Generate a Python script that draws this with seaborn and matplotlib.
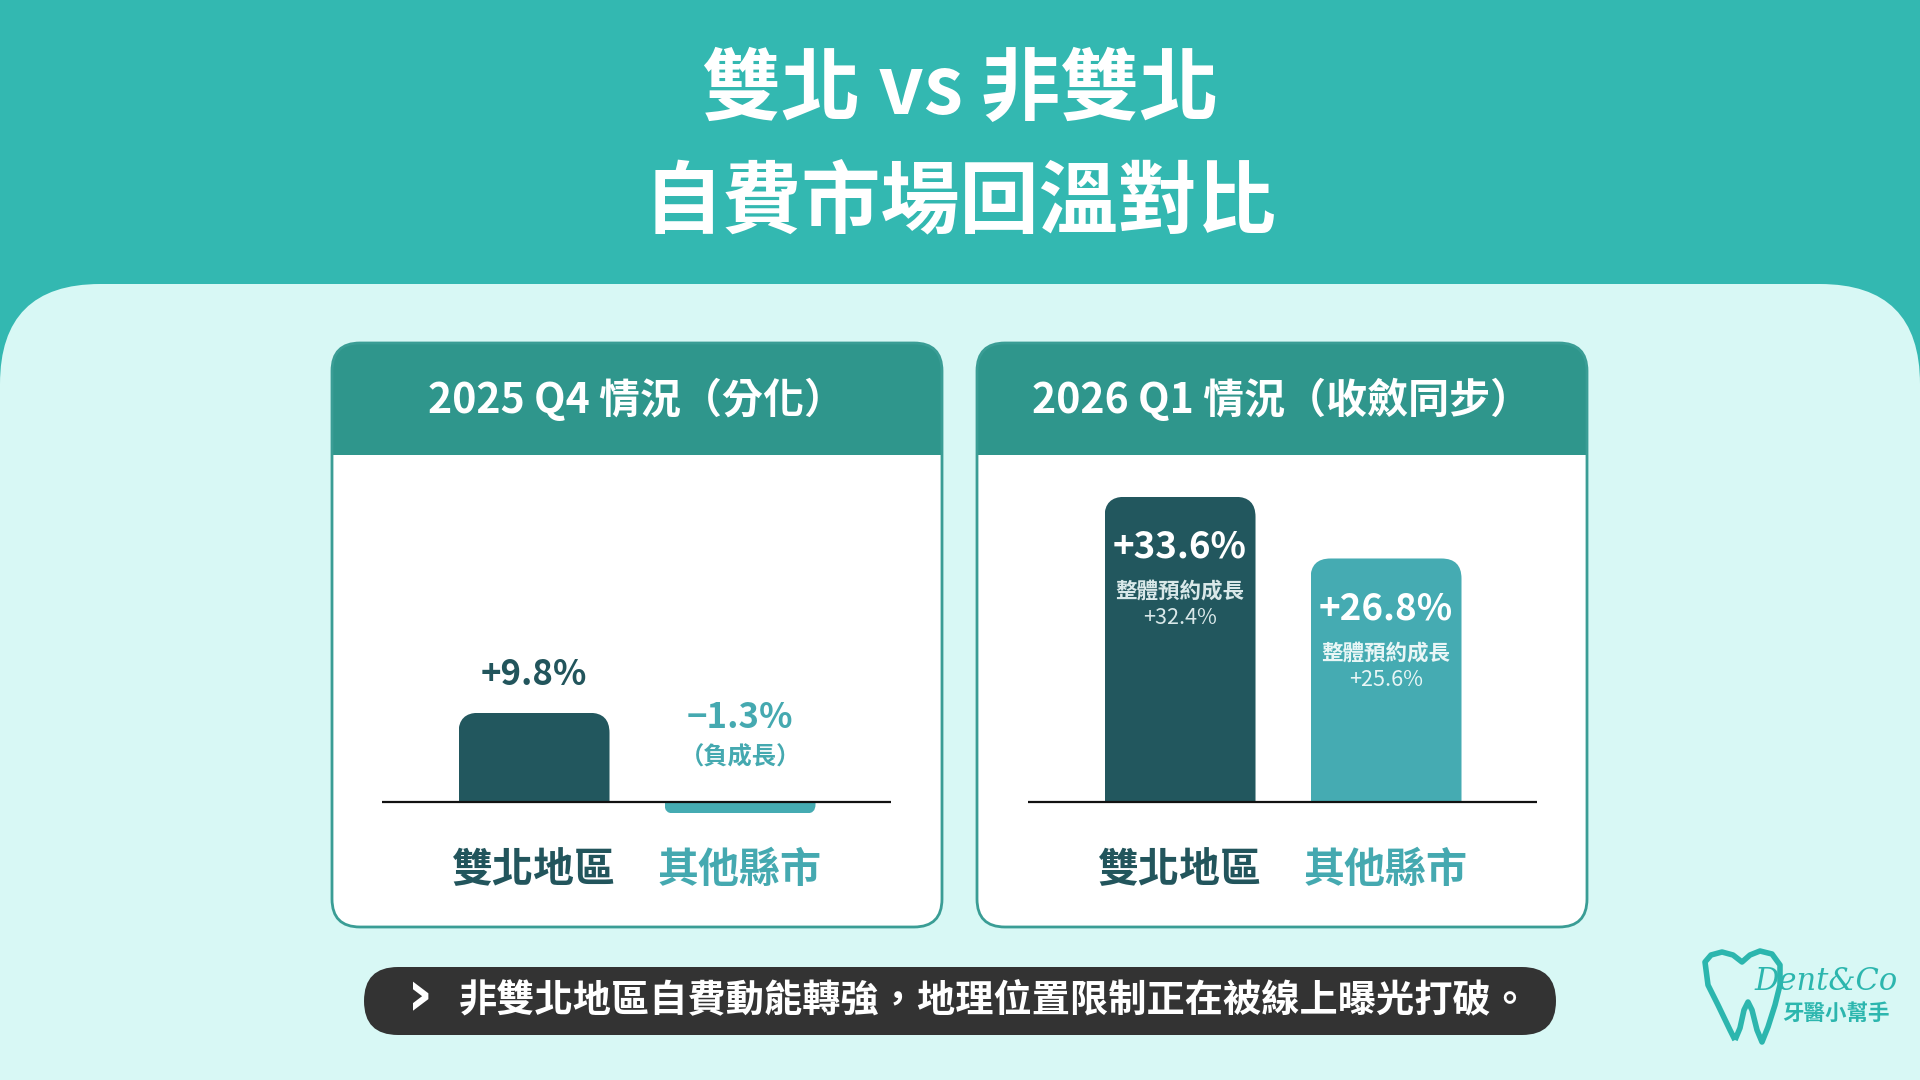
import matplotlib
matplotlib.use('Agg')
from matplotlib import pyplot as plt
from matplotlib.patches import FancyBboxPatch, Rectangle, PathPatch
from matplotlib.path import Path
from matplotlib.transforms import IdentityTransform
import seaborn as sns
import warnings
warnings.simplefilter('ignore')

# データ
regions = ['雙北地區', '其他縣市']
q4_growth = [9.8, -1.3]
q1_growth = [33.6, 26.8]
q1_overall = [32.4, 25.6]
panel_titles = ['2025 Q4 情況（分化）', '2026 Q1 情況（收斂同步）']
main_title = ['雙北 vs 非雙北', '自費市場回溫對比']
neg_note = '（負成長）'
sub_label = '整體預約成長'
note = '非雙北地區自費動能轉強，地理位置限制正在被線上曝光打破。'

# 色
TEAL_TOP = '#33b8b1'
BG_LIGHT = '#d8f8f5'
HEAD = '#2f968c'
BORDER = '#3a9d95'
DARK = '#22575e'
LIGHT_BAR = '#45abb2'
DARK_TEXT = '#22555c'
TEAL_TEXT = '#45a9b0'
BANNER = '#333333'

sns.set_theme(style='white')
plt.rcParams['font.family'] = ['Noto Sans CJK TC', 'DejaVu Sans']

W, H = 1920, 1080
fig = plt.figure(figsize=(19.2, 10.8), dpi=100)
fig.patch.set_facecolor(TEAL_TOP)
PX = IdentityTransform()


def box(x, y, w, h, r, **kw):
    # 左上基準のピクセル座標で角丸四角
    p = FancyBboxPatch((x, H - y - h), w, h,
                       boxstyle=f'round,pad=0,rounding_size={r}',
                       transform=PX, **kw)
    fig.add_artist(p)
    return p


def ftext(x, y, s, **kw):
    return fig.text(x / W, 1 - y / H, s, ha='center', va='center', **kw)


# 背景
box(0, 284, W, 1000, 100, fc=BG_LIGHT, ec='none', zorder=-10)

# タイトル
ftext(W / 2, 90, main_title[0], fontsize=57, fontweight='bold', color='white')
ftext(W / 2, 204, main_title[1], fontsize=57, fontweight='bold', color='white')

# カード
CW, CH, HEAD_H = 610, 584, 112
cards = [332, 977]
for cx, t in zip(cards, panel_titles):
    cy = 343
    box(cx, cy, CW, CH, 28, fc='white', ec='none', zorder=-6)
    hp = box(cx, cy, CW, CH, 28, fc=HEAD, ec='none', zorder=-5)
    hp.set_clip_path(Rectangle((cx, H - cy - HEAD_H), CW, HEAD_H, transform=PX))
    box(cx, cy, CW, CH, 28, fc='none', ec=BORDER, lw=2, zorder=-4)
    ftext(cx + CW / 2, cy + 57, t, fontsize=29.5, fontweight='bold', color='white')


def fmt(v):
    return f'{v:+.1f}%'.replace('-', '−')


def round_bars(ax):
    p0 = ax.transData.transform((0, 0))
    p1 = ax.transData.transform((1, 1))
    sx, sy = p1[0] - p0[0], p1[1] - p0[1]
    for bar in list(ax.patches):
        x, w, v = bar.get_x(), bar.get_width(), bar.get_height()
        r = min(20, 0.75 * abs(v) * sy) / sx
        if v >= 0:
            y0, hh = -6, v + 6
        else:
            y0, hh = v, -v + 6
        fp = FancyBboxPatch((x, y0), w, hh,
                            boxstyle=f'round,pad=0,rounding_size={r}',
                            mutation_aspect=sx / sy,
                            fc=bar.get_facecolor(), ec='none', zorder=2)
        ax.add_patch(fp)
        fp.set_clip_path(Rectangle((x, min(0, v)), w, abs(v), transform=ax.transData))
        bar.remove()


def setup_axes(x0, values):
    ax = fig.add_axes([x0 / W, 1 - 838 / H, 509 / W, 363 / H])
    sns.barplot(x=regions, y=values, hue=regions, palette=[DARK, LIGHT_BAR],
                width=0.733, saturation=1, legend=False, ax=ax)
    ax.set_xlim(-0.738, 1.733)
    ax.set_ylim(-4, 36)
    ax.set_facecolor('none')
    ax.axhline(0, color='#111111', lw=1.6, zorder=3)
    ax.set_yticks([])
    ax.set_xticks([0, 1], regions)
    ax.tick_params(axis='x', length=0, pad=8)
    for lbl, c in zip(ax.get_xticklabels(), [DARK_TEXT, TEAL_TEXT]):
        lbl.set_color(c)
        lbl.set_fontsize(29.5)
        lbl.set_fontweight('bold')
    sns.despine(ax=ax, left=True, bottom=True)
    round_bars(ax)
    return ax


# 2025 Q4
ax1 = setup_axes(382, q4_growth)
text_cols = [DARK_TEXT, TEAL_TEXT]
for i, v in enumerate(q4_growth):
    if v >= 0:
        ax1.annotate(fmt(v), xy=(i, v), xytext=(0, 27.5), textcoords='offset points',
                     ha='center', va='center', fontsize=25, fontweight='bold',
                     color=text_cols[i])
    else:
        ax1.annotate(fmt(v), xy=(i, 0), xytext=(0, 60.5), textcoords='offset points',
                     ha='center', va='center', fontsize=25, fontweight='bold',
                     color=text_cols[i])
        ax1.annotate(neg_note, xy=(i, 0), xytext=(0, 32), textcoords='offset points',
                     ha='center', va='center', fontsize=17.5, fontweight='bold',
                     color=text_cols[i])

# 2026 Q1
ax2 = setup_axes(1028, q1_growth)
sub_cols = ['#d9e8e9', '#e9f6f6']
for i, (v, o) in enumerate(zip(q1_growth, q1_overall)):
    ax2.annotate(fmt(v), xy=(i, v), xytext=(0, -36.5), textcoords='offset points',
                 ha='center', va='center', fontsize=26.5, fontweight='bold', color='white')
    ax2.annotate(sub_label, xy=(i, v), xytext=(0, -68), textcoords='offset points',
                 ha='center', va='center', fontsize=15.5, fontweight='bold', color=sub_cols[i])
    ax2.annotate(fmt(o), xy=(i, v), xytext=(0, -87.5), textcoords='offset points',
                 ha='center', va='center', fontsize=15.5, color=sub_cols[i])

# 下部メッセージ
box(364, 967, 1192, 68, 34, fc=BANNER, ec='none', zorder=-3)
ftext(420, 997, '›', fontsize=46, fontweight='bold', color='white',
      family=['DejaVu Sans'])
fig.text(459 / W, 1 - 1000 / H, note, ha='left', va='center', fontsize=27.5,
         fontweight='bold', color='white')

# ロゴ
pts = [(1735, 1040), (1730, 1030), (1718, 1005), (1708, 985), (1705, 962),
       (1711, 955), (1722, 952), (1733, 955), (1742, 962), (1750, 955),
       (1760, 951), (1772, 954), (1780, 965), (1780, 985), (1775, 1005),
       (1768, 1027), (1762, 1042), (1757, 1030), (1752, 1010), (1748, 1002),
       (1744, 1010), (1740, 1028), (1735, 1040)]
tooth = Path([(x, H - y) for x, y in pts])
fig.add_artist(PathPatch(tooth, transform=PX, fc='none', ec='#2cb6ae', lw=4,
                         joinstyle='round', zorder=-2))
ftext(1826, 982, 'Dent&Co', fontsize=22, style='italic', family=['DejaVu Serif'],
      color='#2cb6ae')
ftext(1836, 1013, '牙醫小幫手', fontsize=15.5, fontweight='bold', color='#2cb6ae')

fig.savefig('out.png', dpi=100, facecolor=fig.get_facecolor())
